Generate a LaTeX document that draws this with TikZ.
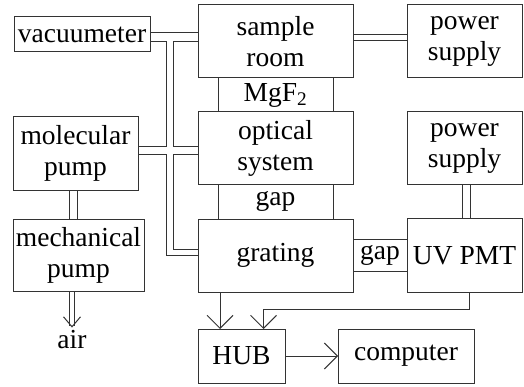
\documentclass[tikz,border=0pt]{standalone}
\usepackage{fontspec}
\setmainfont{Liberation Serif}
\usetikzlibrary{arrows.meta, positioning, backgrounds}

\begin{document}
\begin{tikzpicture}[
    x=1pt, y=1pt,
    box/.style={rectangle, draw=black!80, line width=1pt, inner sep=0pt, outer sep=0pt, align=center, minimum height=73pt, font=\fontsize{27.5pt}{31pt}\selectfont},
    txt/.style={inner sep=3pt, font=\fontsize{27.5pt}{31pt}\selectfont},
    pipe/.style={draw=black!80, line width=1pt},
    dpipe/.style={draw=black!80, line width=1pt, double, double distance=#1},
    arrow/.style={-{Straight Barb[length=13pt, width=26pt]}, draw=black!80, line width=1pt}
]
\useasboundingbox (0,0) rectangle (524,386);

% vacuum side
\node[box, minimum width=136pt, minimum height=35pt] (vac) at (82,351.5) {vacuumeter};
\node[box, minimum width=125pt] (molpump) at (75.5,232.5) {molecular\\pump};
\node[box, minimum width=131pt, minimum height=72pt, below=29pt of molpump.south west, anchor=north west] (mechpump) {mechanical\\pump};
\node[txt] (air) at (72,46) {air};

% optical column
\node[box, minimum width=155pt] (sample) at (275.5,344.5) {sample\\room};
\node[box, minimum width=115pt, minimum height=34pt, below=0pt of sample] (mgf) {MgF\textsubscript{2}};
\node[box, minimum width=155pt, minimum height=72pt, below=0pt of mgf] (optics) {optical\\system};
\node[box, minimum width=115pt, minimum height=35pt, below=0pt of optics] (gap1) {gap};
\node[box, minimum width=155pt, below=0pt of gap1] (grating) {grating};

% detector side
\node[box, minimum width=115pt, right=54pt of sample] (power1) {power\\supply};
\node[box, minimum width=54pt, minimum height=32pt, right=0pt of grating] (gap2) {gap};
\node[box, minimum width=115pt, minimum height=74pt, right=0pt of gap2] (pmt) {UV PMT};
\node[box, minimum width=115pt, above=34pt of pmt] (power2) {power\\supply};
\node[box, minimum width=87pt, minimum height=54pt, below=37pt of grating.south west, anchor=north west] (hub) {HUB};
\node[box, minimum width=136pt, minimum height=54pt, right=53pt of hub] (computer) {computer};

% vacuum pipes
\coordinate (pL) at (166,0);
\coordinate (pR) at (173,0);
\coordinate (v1) at (0,353);
\coordinate (v2) at (0,344);
\coordinate (m1) at (0,239);
\coordinate (m2) at (0,231);
\coordinate (g1) at (0,137);
\coordinate (g2) at (0,131);
\draw[pipe] (vac.east |- v1) -- (sample.west |- v1);
\draw[pipe] (vac.east |- v2) -- (pL |- v2) -- (pL |- m1) -- (molpump.east |- m1);
\draw[pipe] (sample.west |- v2) -- (pR |- v2) -- (pR |- m1) -- (optics.west |- m1);
\draw[pipe] (molpump.east |- m2) -- (pL |- m2) -- (pL |- g2) -- (grating.west |- g2);
\draw[pipe] (optics.west |- m2) -- (pR |- m2) -- (pR |- g1) -- (grating.west |- g1);

\begin{scope}[on background layer]
\draw[dpipe=5pt] ([yshift=3.5pt]sample.east) -- ([yshift=3.5pt]power1.west);
\draw[dpipe=7pt] ([xshift=1.5pt]power2.south) -- ([xshift=1.5pt]power2.south |- pmt.north);
\draw[dpipe=7pt] ([xshift=-2.5pt]molpump.south) -- ([xshift=-2.5pt]molpump.south |- mechpump.north);
\draw[dpipe=4pt, -{Straight Barb[length=10pt, width=17pt]}] (air.north |- mechpump.south) -- (air.north);
\end{scope}

% signal lines
\coordinate (hubL) at ([xshift=-21.5pt]hub.north);
\coordinate (hubR) at ([xshift=22pt]hub.north);
\draw[arrow] (grating.south -| hubL) -- (hubL);
\draw[arrow] ([xshift=4.5pt]pmt.south) |- ([yshift=20pt]hubR) -- (hubR);
\draw[arrow] (hub) -- (computer);
\end{tikzpicture}
\end{document}
